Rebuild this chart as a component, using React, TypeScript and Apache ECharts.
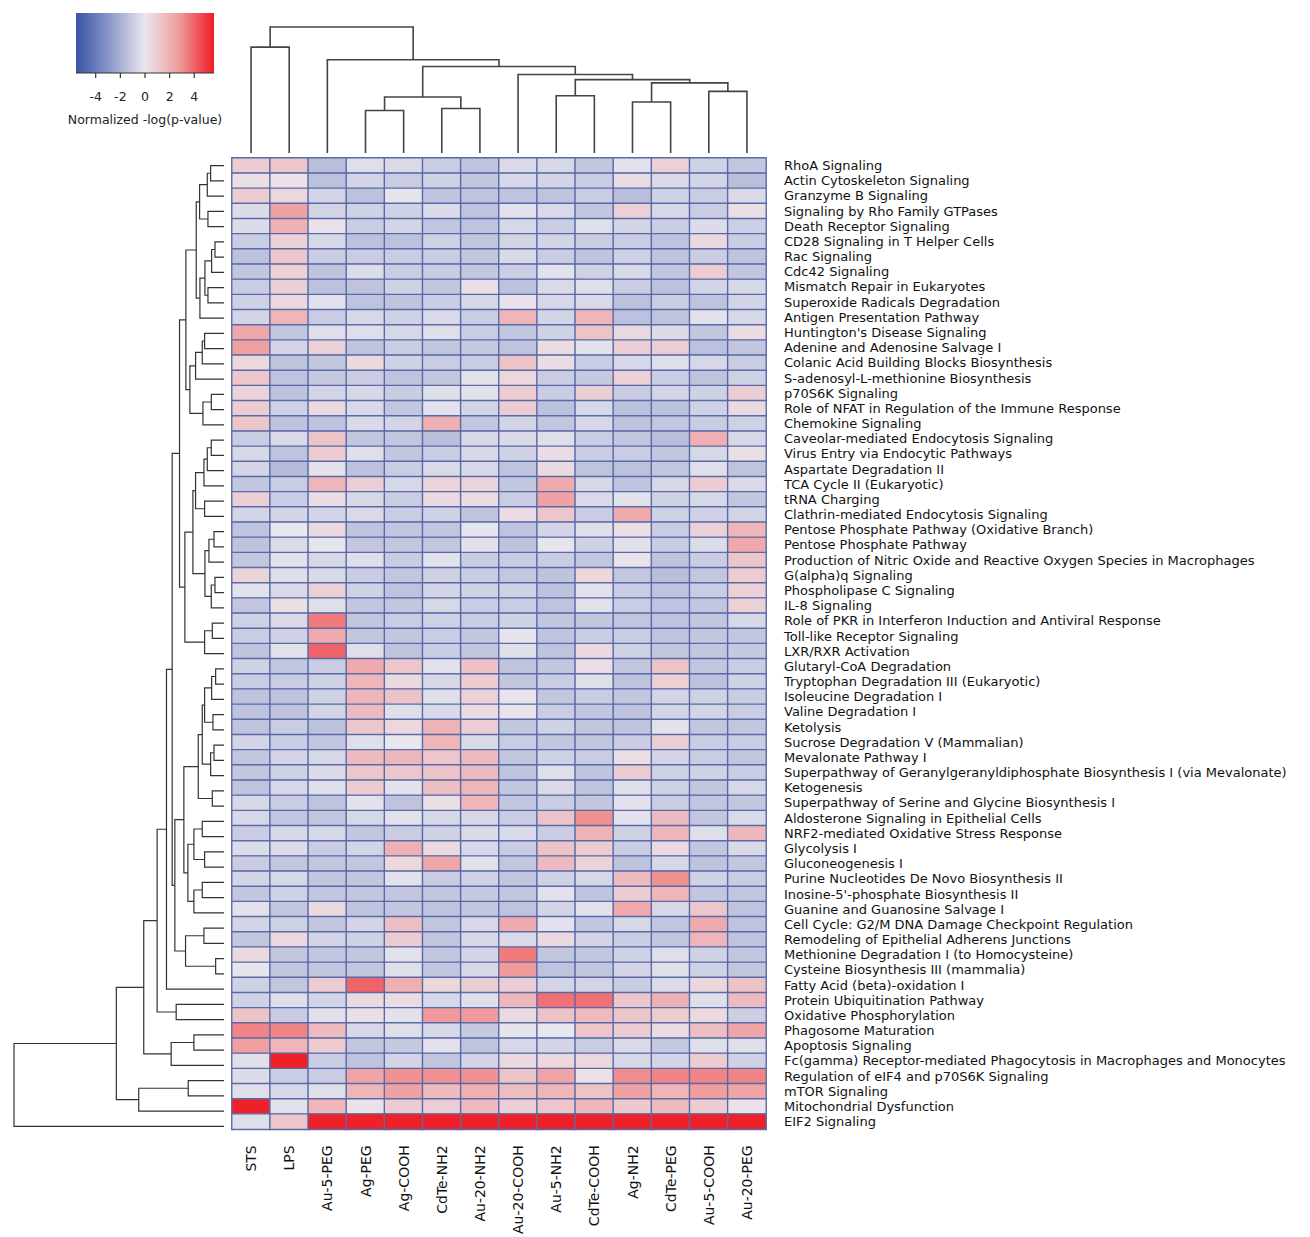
import React, { useEffect, useRef } from "react";
import * as echarts from "echarts";

const columns = ["STS", "LPS", "Au-5-PEG", "Ag-PEG", "Ag-COOH", "CdTe-NH2", "Au-20-NH2", "Au-20-COOH", "Au-5-NH2", "CdTe-COOH", "Ag-NH2", "CdTe-PEG", "Au-5-COOH", "Au-20-PEG"];

const pathways = [
  "RhoA Signaling", "Actin Cytoskeleton Signaling", "Granzyme B Signaling", "Signaling by Rho Family GTPases",
  "Death Receptor Signaling", "CD28 Signaling in T Helper Cells", "Rac Signaling", "Cdc42 Signaling",
  "Mismatch Repair in Eukaryotes", "Superoxide Radicals Degradation", "Antigen Presentation Pathway",
  "Huntington's Disease Signaling", "Adenine and Adenosine Salvage I", "Colanic Acid Building Blocks Biosynthesis",
  "S-adenosyl-L-methionine Biosynthesis", "p70S6K Signaling", "Role of NFAT in Regulation of the Immune Response",
  "Chemokine Signaling", "Caveolar-mediated Endocytosis Signaling", "Virus Entry via Endocytic Pathways",
  "Aspartate Degradation II", "TCA Cycle II (Eukaryotic)", "tRNA Charging", "Clathrin-mediated Endocytosis Signaling",
  "Pentose Phosphate Pathway (Oxidative Branch)", "Pentose Phosphate Pathway",
  "Production of Nitric Oxide and Reactive Oxygen Species in Macrophages", "G(alpha)q Signaling",
  "Phospholipase C Signaling", "IL-8 Signaling", "Role of PKR in Interferon Induction and Antiviral Response",
  "Toll-like Receptor Signaling", "LXR/RXR Activation", "Glutaryl-CoA Degradation",
  "Tryptophan Degradation III (Eukaryotic)", "Isoleucine Degradation I", "Valine Degradation I", "Ketolysis",
  "Sucrose Degradation V (Mammalian)", "Mevalonate Pathway I",
  "Superpathway of Geranylgeranyldiphosphate Biosynthesis I (via Mevalonate)", "Ketogenesis",
  "Superpathway of Serine and Glycine Biosynthesis I", "Aldosterone Signaling in Epithelial Cells",
  "NRF2-mediated Oxidative Stress Response", "Glycolysis I", "Gluconeogenesis I",
  "Purine Nucleotides De Novo Biosynthesis II", "Inosine-5'-phosphate Biosynthesis II",
  "Guanine and Guanosine Salvage I", "Cell Cycle: G2/M DNA Damage Checkpoint Regulation",
  "Remodeling of Epithelial Adherens Junctions", "Methionine Degradation I (to Homocysteine)",
  "Cysteine Biosynthesis III (mammalia)", "Fatty Acid (beta)-oxidation I", "Protein Ubiquitination Pathway",
  "Oxidative Phosphorylation", "Phagosome Maturation", "Apoptosis Signaling",
  "Fc(gamma) Receptor-mediated Phagocytosis in Macrophages and Monocytes",
  "Regulation of eIF4 and p70S6K Signaling", "mTOR Signaling", "Mitochondrial Dysfunction", "EIF2 Signaling",
];

// normalized -log(p-value), one row per pathway, columns in the order above
const values: number[][] = [
  [1.0, 1.2, -1.5, -0.3, -0.5, -1.0, -1.3, -0.5, -0.6, -1.2, -0.2, 0.8, -0.8, -1.2],
  [0.3, 0.2, -1.4, -0.7, -1.0, -0.8, -1.2, -0.6, -0.7, -1.0, 0.4, -0.5, -0.7, -1.5],
  [1.0, 0.6, -0.7, -1.4, -0.1, -1.3, -1.3, -1.3, -1.3, -1.0, -1.5, -0.8, -1.0, -0.5],
  [-0.4, 2.5, -0.7, -0.8, -0.8, -0.4, -1.3, -0.2, -0.5, -1.2, 0.8, -0.6, -1.0, 0.3],
  [-0.4, 2.0, 0.2, -1.0, -0.7, -1.2, -1.3, -0.6, -1.0, -0.3, -0.7, -1.0, -0.4, -0.9],
  [-1.0, 0.8, -0.6, -1.4, -1.4, -0.8, -1.2, -0.7, -0.7, -1.0, -1.0, -1.3, 0.5, -1.0],
  [-1.4, 1.2, -1.0, -1.0, -1.0, -1.0, -1.2, -0.5, -1.0, -1.3, -0.8, -1.3, -1.0, -1.3],
  [-1.2, 0.8, -1.3, -0.4, -1.0, -1.0, -1.2, -0.9, -0.2, -0.8, -0.5, -1.2, 1.0, -1.2],
  [-1.0, 0.9, -1.4, -1.3, -0.8, -1.2, 0.3, -1.4, -0.5, -0.3, -1.0, -1.4, -0.7, -0.6],
  [-0.8, 0.6, -0.2, -1.3, -1.3, -1.0, -0.6, 0.2, -0.6, -0.5, -1.4, -1.0, -1.3, -0.7],
  [-0.7, 1.8, -1.0, -0.6, -0.8, -0.5, -1.0, 1.8, -0.7, 1.8, -1.4, -1.3, -0.2, -0.6],
  [2.3, -1.2, -0.3, -0.3, -0.6, -0.3, -1.0, -1.2, -0.8, 1.3, 0.5, -0.4, -1.2, 0.4],
  [2.6, -0.7, 0.8, -1.3, -1.0, -1.2, -1.1, -1.3, 0.4, -0.2, 0.9, 0.9, -1.4, -1.2],
  [0.6, -1.3, -1.2, 0.5, -0.8, -1.0, -1.0, 1.3, 0.4, -1.0, -0.6, -0.3, -0.6, -1.0],
  [1.2, -1.3, -1.1, -1.0, -1.3, -1.2, -0.2, 0.6, -1.0, -1.1, 0.8, -1.0, -1.3, -0.8],
  [0.7, -1.3, -0.7, -0.6, -1.0, -0.3, -0.2, 1.0, -1.0, 0.9, -1.0, -0.7, -0.8, 0.9],
  [1.0, -0.8, 0.5, -0.5, -1.2, -0.2, -0.7, 1.0, -1.4, -0.6, -1.4, -1.4, -0.8, 0.5],
  [1.2, -1.3, -1.3, -0.5, -0.7, 2.0, -1.2, -0.7, -1.2, -0.6, -1.3, -1.2, -1.0, -0.8],
  [-1.0, -0.5, 1.3, -1.2, -1.2, -1.5, -0.6, -0.5, -0.3, -1.0, -1.2, -1.5, 2.0, -0.6],
  [-0.6, -1.3, 1.0, -0.3, -1.2, -1.0, -0.6, -0.8, 0.4, -1.0, -1.0, -1.2, -0.6, 0.3],
  [-0.7, -1.6, -0.2, -1.4, -1.0, -0.5, -0.6, -1.3, 0.5, -1.3, -1.4, -1.2, -0.3, -1.3],
  [-1.2, -1.0, 1.8, 0.9, -0.6, 0.7, 0.7, -1.2, 2.2, -0.6, -1.3, -0.6, 1.0, -0.5],
  [0.9, -1.0, 0.4, -0.6, -1.0, 0.5, 0.4, -1.0, 2.5, -0.5, -0.2, -0.8, -0.6, -1.2],
  [-0.7, -0.7, -0.7, -0.5, -1.0, -0.8, -1.3, 0.4, 1.2, -1.0, 2.2, -0.8, -0.8, -0.7],
  [-1.3, 0.0, 0.5, -1.3, -1.2, -1.2, -0.1, -1.3, -0.7, -0.3, 0.3, -1.0, 0.8, 1.8],
  [-1.3, -0.4, -0.1, -1.2, -1.2, -1.2, -0.2, -1.3, -0.1, -0.8, -0.2, -1.0, -0.4, 2.3],
  [-1.2, -0.2, -0.6, -0.3, -1.0, -0.2, -1.0, -1.0, -1.0, -1.2, 0.2, -1.3, -1.0, 1.2],
  [0.7, -0.3, -0.5, -1.0, -1.2, -0.8, -1.0, -1.2, -1.3, 0.6, -1.2, -1.5, -1.2, 1.0],
  [-0.2, -0.5, 0.8, -0.8, -1.3, -0.7, -0.8, -0.8, -1.4, -0.2, -1.0, -1.3, -1.0, 0.8],
  [-1.2, 0.3, -0.3, -1.2, -1.2, -0.6, -1.0, -1.0, -1.3, -0.2, -1.0, -1.3, -1.2, 0.8],
  [-0.8, -0.5, 3.5, -1.2, -1.0, -0.8, -1.0, -0.8, -1.2, -1.2, -1.2, -1.3, -1.2, -0.6],
  [-1.0, -0.8, 2.2, -1.2, -1.2, -1.0, -1.2, -0.1, -1.3, -1.0, -1.0, -1.3, -1.2, -1.2],
  [-1.3, -0.2, 4.0, -0.3, -1.3, -1.0, -1.2, -0.3, -1.3, 0.5, -0.8, -1.2, -1.2, -1.1],
  [-0.8, -1.2, -1.0, 2.2, 1.2, -0.2, 1.4, -1.3, -1.2, 0.3, -1.2, 1.3, -1.2, -1.0],
  [-1.0, -1.0, -0.8, 1.8, 0.5, -0.6, 1.0, -1.2, -1.0, -0.3, -1.3, 0.8, -1.4, -0.8],
  [-1.3, -1.3, -0.8, 1.8, 1.3, -0.3, 0.8, 0.1, -1.2, -1.0, -1.2, -0.7, -0.8, -1.0],
  [-1.3, -1.3, -0.7, 1.6, -0.3, -0.5, 0.4, 0.1, -1.0, -1.2, -1.3, -0.7, -0.7, -1.0],
  [-1.3, -1.0, -1.4, 1.2, 0.6, 1.9, 0.9, -1.2, -0.8, -1.2, -1.3, -0.2, -1.2, -1.2],
  [-0.7, -1.0, -1.2, -0.3, 0.0, 1.8, -0.5, -1.0, -1.2, -1.2, -1.0, 0.9, -1.0, -1.0],
  [-1.2, -0.7, -0.6, 1.6, 1.7, 1.2, 1.6, -1.2, -0.8, -1.0, 0.3, -0.7, -1.0, -1.2],
  [-1.2, -0.8, -0.4, 1.2, 1.2, 1.3, 1.6, -1.3, -0.3, -1.3, 1.0, -0.8, -0.8, -1.0],
  [-1.3, -0.6, -0.3, 1.0, -0.2, 1.5, 1.8, -1.2, -0.5, -1.3, -0.3, -0.8, -1.2, -0.6],
  [-0.6, -1.0, -1.3, -0.2, -1.3, 0.3, 1.8, -1.2, -1.0, -1.2, -0.2, -1.0, -1.2, -1.2],
  [-0.6, -1.2, -1.2, -0.6, -0.2, -0.6, -0.6, -1.0, 1.3, 3.0, -0.2, 1.6, -1.2, -0.5],
  [-1.0, -0.6, -0.6, -1.2, -1.0, -0.8, -0.4, -0.5, -1.0, 1.9, -0.8, 1.8, -0.3, 1.7],
  [-0.4, -0.4, -1.0, -0.7, 2.0, 0.5, -0.6, -1.0, 1.3, 1.0, -1.0, 0.5, -1.2, -0.5],
  [-1.0, -1.2, -1.2, -1.2, 0.6, 2.3, -0.2, -1.2, 1.6, 0.7, -1.3, -0.6, -1.3, -1.2],
  [-0.7, -0.6, -1.2, -1.2, -0.2, -1.0, -0.8, -1.2, -0.8, -0.6, 1.6, 3.0, -0.8, -1.0],
  [-1.2, -0.8, -1.2, -1.2, -1.2, -1.2, -1.1, -1.2, -0.2, -1.3, 1.0, 1.8, -1.2, -1.2],
  [-0.2, -1.2, 0.5, -1.3, -1.2, -1.3, -1.2, -1.3, -0.7, -0.2, 2.2, -0.6, 1.2, -1.3],
  [-0.7, -0.8, -1.2, -0.7, 1.5, -1.2, -0.6, 2.2, -0.2, -1.2, -0.6, -1.2, 2.2, -1.3],
  [-1.2, 0.6, -0.7, -0.8, 1.0, -1.2, -0.6, -0.5, 0.5, -0.7, -1.0, -1.2, 1.8, -1.3],
  [0.5, -1.2, -1.2, -1.2, -0.2, -1.2, -0.7, 3.5, -1.2, -1.2, -0.8, -0.3, -0.8, -1.2],
  [-0.1, -1.2, -1.2, -1.2, -0.3, -1.2, -0.6, 2.8, -1.3, -1.2, -0.7, -0.3, -0.8, -1.2],
  [-0.8, -1.2, 1.0, 4.0, 2.0, 0.6, 0.9, 0.9, -0.7, -0.7, -1.0, -0.4, 0.6, 1.3],
  [-0.8, -0.3, -0.7, 0.5, 0.4, -0.6, -0.3, 1.8, 3.7, 3.7, 1.2, 2.0, -0.3, 1.6],
  [1.3, -1.0, -0.2, 0.3, -0.2, 2.8, 2.8, 0.5, 1.3, 1.6, 1.2, 1.0, 0.5, -0.9],
  [3.3, 3.3, 1.6, -0.6, -0.3, -0.6, -1.1, -0.1, 0.0, 1.2, 1.0, 0.4, 1.5, 2.4],
  [2.6, 1.8, 1.0, -1.2, -1.1, -0.2, -1.3, -0.6, -0.7, -1.0, -0.5, -1.1, -0.3, -0.3],
  [-0.3, 5.5, -1.0, -1.3, -0.7, -1.2, -0.7, 0.5, 0.6, 0.6, -0.6, -0.7, 1.0, -0.8],
  [-0.4, -1.0, -1.0, 2.4, 3.0, 3.0, 3.0, 1.3, 2.4, 0.2, 3.1, 3.3, 3.3, 3.3],
  [-0.3, -0.6, -0.3, 1.8, 2.5, 1.6, 2.0, 1.5, 1.8, 1.3, 2.5, 1.8, 2.7, 2.4],
  [5.5, -0.2, 1.8, 0.2, 1.0, 0.9, 1.6, 0.9, 1.2, 1.8, 1.1, 1.6, 1.0, 0.2],
  [-0.3, 1.2, 5.5, 5.5, 5.5, 5.5, 5.5, 5.5, 5.5, 5.5, 5.5, 5.5, 5.5, 5.5],
];

// column dendrogram: [left node, right node, height]; nodes >= 14 are earlier merges
const colLinkage: number[][] = [
  [3, 4, 42.3], [5, 6, 44.3], [14, 15, 55.7], [10, 11, 50.7], [8, 9, 57], [12, 13, 61.3],
  [17, 19, 69.7], [18, 20, 73], [7, 21, 78], [16, 22, 86], [2, 23, 92.7], [0, 1, 105.3], [25, 24, 125.3],
];

// row dendrogram: [left node, right node, height]; nodes >= 64 are earlier merges
const rowLinkage: number[][] = [
  [0, 1, 40], [64, 2, 50], [3, 4, 48], [65, 66, 73], [5, 6, 27], [68, 7, 37], [8, 9, 48], [69, 70, 57],
  [71, 10, 72], [67, 72, 83], [11, 12, 58], [74, 13, 65], [75, 14, 85], [15, 16, 38], [77, 17, 63],
  [76, 78, 102], [73, 79, 114], [18, 19, 38], [81, 20, 50], [82, 21, 60], [22, 23, 58], [83, 84, 85],
  [24, 25, 30], [86, 26, 45], [27, 28, 27], [88, 29, 38], [87, 89, 57], [85, 90, 93], [30, 31, 35],
  [92, 32, 58], [91, 93, 117], [80, 94, 133], [33, 34, 25], [96, 35, 37], [36, 37, 33], [97, 98, 58],
  [38, 39, 30], [100, 40, 40], [99, 101, 65], [41, 42, 35], [102, 103, 77], [43, 44, 65], [45, 46, 58],
  [105, 106, 90], [47, 48, 65], [108, 49, 90], [107, 109, 108], [104, 110, 120], [50, 51, 60],
  [52, 53, 25], [112, 113, 115], [111, 114, 147], [95, 115, 155], [116, 54, 172], [55, 56, 143],
  [117, 118, 200], [57, 58, 90], [120, 59, 158], [119, 121, 240], [60, 61, 107], [123, 62, 255],
  [122, 124, 322], [125, 63, 628],
];

const colorMin = -5.6;
const colorMax = 5.6;
const colorStops = ["#3953A4", "#8F9ACB", "#E9E7EE", "#F09A9B", "#EE1C24"];
const legendTicks = [-4, -2, 0, 2, 4];
const legendTitle = "Normalized -log(p-value)";

function buildSegments(linkage: number[][], n: number): number[][] {
  const pos: number[] = [];
  const hgt: number[] = [];
  for (let i = 0; i < n; i++) {
    pos[i] = i;
    hgt[i] = 0;
  }
  const segs: number[][] = [];
  linkage.forEach(([a, b, h], k) => {
    segs.push([pos[a], hgt[a], pos[b], hgt[b], h]);
    pos[n + k] = (pos[a] + pos[b]) / 2;
    hgt[n + k] = h;
  });
  return segs;
}

export default function App() {
  const ref = useRef<HTMLDivElement>(null);
  useEffect(() => {
    if (!ref.current) return;
    const chart = echarts.init(ref.current, null, { renderer: "svg" });
    const font = "'DejaVu Sans', 'Noto Sans', sans-serif";

    const heatData: number[][] = [];
    values.forEach((row, r) => row.forEach((v, c) => heatData.push([c, r, v])));

    const colSegs = buildSegments(colLinkage, columns.length);
    const rowSegs = buildSegments(rowLinkage, pathways.length);
    const colRoot = colLinkage[colLinkage.length - 1][2];
    const rowRoot = rowLinkage[rowLinkage.length - 1][2];

    const hmLeft = 232, hmTop = 158, hmWidth = 534, hmHeight = 976;
    const lgX = 76, lgY = 13, lgW = 138, lgH = 60;
    const lgPos = (v: number) => lgX + ((v - colorMin) / (colorMax - colorMin)) * lgW;

    const legendGraphics: any[] = [
      {
        type: "rect",
        shape: { x: lgX, y: lgY, width: lgW, height: lgH },
        style: {
          fill: new echarts.graphic.LinearGradient(0, 0, 1, 0,
            colorStops.map((c, i) => ({ offset: i / (colorStops.length - 1), color: c }))),
        },
      },
      { type: "line", shape: { x1: lgX, y1: lgY + lgH, x2: lgX + lgW, y2: lgY + lgH }, style: { stroke: "#333", lineWidth: 1 } },
      ...legendTicks.map((t) => ({
        type: "line",
        shape: { x1: lgPos(t), y1: lgY + lgH, x2: lgPos(t), y2: lgY + lgH + 5 },
        style: { stroke: "#333", lineWidth: 1.2 },
      })),
      ...legendTicks.map((t) => ({
        type: "text",
        x: lgPos(t),
        y: 96,
        style: { text: String(t), fontSize: 12.5, fontFamily: font, fill: "#222", align: "center", verticalAlign: "middle" },
      })),
      {
        type: "text",
        x: lgX + lgW / 2,
        y: 119,
        style: { text: legendTitle, fontSize: 12.5, fontFamily: font, fill: "#222", align: "center", verticalAlign: "middle" },
      },
    ];

    const option: any = {
      animation: false,
      backgroundColor: "#ffffff",
      grid: [
        { left: hmLeft, top: hmTop, width: hmWidth, height: hmHeight },
        { left: hmLeft, top: 27, width: hmWidth, height: 126 },
        { left: 14, top: hmTop, width: 210, height: hmHeight },
      ],
      xAxis: [
        {
          type: "category", gridIndex: 0, data: columns, position: "bottom",
          axisLine: { show: false }, axisTick: { show: false }, splitLine: { show: false },
          axisLabel: { interval: 0, rotate: 90, margin: 16, fontSize: 14, fontFamily: font, color: "#111" },
        },
        { type: "value", gridIndex: 1, min: -0.5, max: columns.length - 0.5, show: false },
        { type: "value", gridIndex: 2, min: 0, max: rowRoot, inverse: true, show: false },
      ],
      yAxis: [
        {
          type: "category", gridIndex: 0, data: pathways, inverse: true, position: "right",
          axisLine: { show: false }, axisTick: { show: false }, splitLine: { show: false },
          axisLabel: { interval: 0, margin: 18, fontSize: 13, verticalAlign: "middle", fontFamily: font, color: "#111" },
        },
        { type: "value", gridIndex: 1, min: 0, max: colRoot, show: false },
        { type: "value", gridIndex: 2, min: -0.5, max: pathways.length - 0.5, inverse: true, show: false },
      ],
      visualMap: {
        show: false, type: "continuous", min: colorMin, max: colorMax, seriesIndex: 0, dimension: 2,
        inRange: { color: colorStops },
      },
      series: [
        {
          type: "heatmap", xAxisIndex: 0, yAxisIndex: 0, data: heatData,
          itemStyle: { borderColor: "#5A6AA6", borderWidth: 1.4 },
          emphasis: { disabled: true },
        },
        {
          type: "custom", xAxisIndex: 1, yAxisIndex: 1, data: colSegs, silent: true,
          renderItem: (_p: any, api: any) => {
            const x1 = api.value(0), h1 = api.value(1), x2 = api.value(2), h2 = api.value(3), h = api.value(4);
            const pts = [api.coord([x1, h1]), api.coord([x1, h]), api.coord([x2, h]), api.coord([x2, h2])];
            return { type: "polyline", shape: { points: pts }, style: { stroke: "#444", lineWidth: 1.6, fill: null } };
          },
        },
        {
          type: "custom", xAxisIndex: 2, yAxisIndex: 2, data: rowSegs, silent: true,
          renderItem: (_p: any, api: any) => {
            const y1 = api.value(0), h1 = api.value(1), y2 = api.value(2), h2 = api.value(3), h = api.value(4);
            const pts = [api.coord([h1, y1]), api.coord([h, y1]), api.coord([h, y2]), api.coord([h2, y2])];
            return { type: "polyline", shape: { points: pts }, style: { stroke: "#333", lineWidth: 1.2, fill: null } };
          },
        },
      ],
      graphic: legendGraphics,
    };
    chart.setOption(option);
    return () => chart.dispose();
  }, []);

  return (
    <div
      ref={ref}
      style={{ position: "absolute", left: 0, top: 0, width: 1310, height: 1237, background: "#fff" }}
    />
  );
}
